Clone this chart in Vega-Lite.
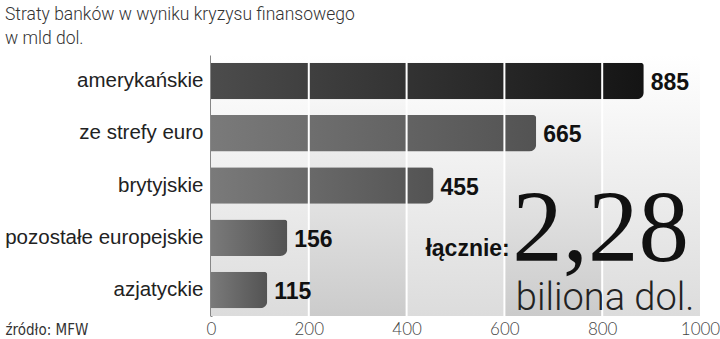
{
  "$schema": "https://vega.github.io/schema/vega-lite/v6.json",
  "width": 489,
  "height": 261,
  "autosize": {"type": "none"},
  "padding": {"left": 211, "top": 55, "right": 20, "bottom": 23},
  "background": "white",
  "config": {"view": {"stroke": null}, "font": "Liberation Sans"},
  "title": {
    "text": ["Straty banków w wyniku kryzysu finansowego", "w mld dol."],
    "anchor": "start",
    "frame": "group",
    "dx": -206,
    "offset": 7,
    "font": "Roboto",
    "fontSize": 17.5,
    "fontWeight": 300,
    "color": "#333333",
    "lineHeight": 24
  },
  "datasets": {
    "bars": [
      {"kraj": "amerykańskie", "straty": 885, "grupa": "us"},
      {"kraj": "ze strefy euro", "straty": 665, "grupa": "inne"},
      {"kraj": "brytyjskie", "straty": 455, "grupa": "inne"},
      {"kraj": "pozostałe europejskie", "straty": 156, "grupa": "inne"},
      {"kraj": "azjatyckie", "straty": 115, "grupa": "inne"}
    ],
    "bands": [
      {"od": 0, "do": 200, "typ": "jasny"},
      {"od": 200, "do": 400, "typ": "ciemny"},
      {"od": 400, "do": 600, "typ": "jasny"},
      {"od": 600, "do": 800, "typ": "ciemny"},
      {"od": 800, "do": 1000, "typ": "jasny"}
    ],
    "grid": [{"v": 200}, {"v": 400}, {"v": 600}, {"v": 800}]
  },
  "layer": [
    {
      "data": {"name": "bands"},
      "transform": [{"filter": "datum.typ === 'jasny'"}],
      "mark": {"type": "rect", "color": {"gradient": "linear", "x1": 0, "y1": 0, "x2": 0, "y2": 1, "stops": [{"offset": 0, "color": "#ffffff"}, {"offset": 1, "color": "#dcdcdc"}]}},
      "encoding": {
        "x": {"field": "od", "type": "quantitative", "scale": {"domain": [0, 1000]}},
        "x2": {"field": "do"}
      }
    },
    {
      "data": {"name": "bands"},
      "transform": [{"filter": "datum.typ === 'ciemny'"}],
      "mark": {"type": "rect", "color": {"gradient": "linear", "x1": 0, "y1": 0, "x2": 0, "y2": 1, "stops": [{"offset": 0, "color": "#ffffff"}, {"offset": 1, "color": "#cbcbcb"}]}},
      "encoding": {
        "x": {"field": "od", "type": "quantitative"},
        "x2": {"field": "do"}
      }
    },
    {
      "data": {"name": "bars"},
      "transform": [{"filter": "datum.grupa === 'us'"}],
      "mark": {"type": "bar", "cornerRadiusTopRight": 3, "cornerRadiusBottomRight": 7, "color": {"gradient": "linear", "x1": 0, "y1": 0, "x2": 1, "y2": 0, "stops": [{"offset": 0, "color": "#4c4c4c"}, {"offset": 1, "color": "#141414"}]}},
      "encoding": {
        "y": {"field": "kraj", "type": "nominal", "sort": null, "scale": {"domain": ["amerykańskie", "ze strefy euro", "brytyjskie", "pozostałe europejskie", "azjatyckie"], "paddingInner": 0.3, "paddingOuter": 0.15},
          "axis": {"title": null, "ticks": false, "domainColor": "#111111", "domainWidth": 2, "labelFontSize": 20.5, "labelFont": "Liberation Sans", "labelColor": "#222222", "labelPadding": 8, "labelLimit": 0}},
        "x": {"field": "straty", "type": "quantitative", "scale": {"domain": [0, 1000]},
          "axis": {"values": [0, 200, 400, 600, 800, 1000], "format": "d", "grid": false, "domain": false, "ticks": false, "labelFlush": false, "labelPadding": 5, "labelFont": "Lato", "labelFontWeight": 300, "labelFontSize": 17, "labelColor": "#444444",
            "title": "źródło: MFW", "titleX": -206, "titleY": 13, "titleAlign": "left", "titleBaseline": "middle", "titleFont": "DejaVu Sans Condensed", "titleFontSize": 15, "titleFontWeight": "normal", "titleColor": "#333333"}}
      }
    },
    {
      "data": {"name": "bars"},
      "transform": [{"filter": "datum.grupa === 'inne'"}],
      "mark": {"type": "bar", "cornerRadiusTopRight": 3, "cornerRadiusBottomRight": 7, "color": {"gradient": "linear", "x1": 0, "y1": 0, "x2": 1, "y2": 0, "stops": [{"offset": 0, "color": "#7a7a7a"}, {"offset": 1, "color": "#535353"}]}},
      "encoding": {
        "y": {"field": "kraj", "type": "nominal", "sort": null},
        "x": {"field": "straty", "type": "quantitative"}
      }
    },
    {
      "data": {"name": "grid"},
      "mark": {"type": "rule", "color": "#ffffff", "strokeWidth": 2},
      "encoding": {"x": {"field": "v", "type": "quantitative"}}
    },
    {
      "data": {"name": "bars"},
      "mark": {"type": "text", "align": "left", "baseline": "middle", "dx": 7, "dy": 2, "font": "Liberation Sans", "fontWeight": "bold", "fontSize": 23, "color": "#111111"},
      "encoding": {
        "y": {"field": "kraj", "type": "nominal", "sort": null},
        "x": {"field": "straty", "type": "quantitative"},
        "text": {"field": "straty"}
      }
    },
    {
      "data": {"values": [{"t": "łącznie:", "x": 611, "kraj": "pozostałe europejskie"}]},
      "mark": {"type": "text", "align": "right", "baseline": "alphabetic", "dy": 18, "font": "Liberation Sans", "fontWeight": "bold", "fontSize": 23, "color": "#111111"},
      "encoding": {
        "y": {"field": "kraj", "type": "nominal"},
        "x": {"field": "x", "type": "quantitative"},
        "text": {"field": "t"}
      }
    },
    {
      "data": {"values": [{"t": "2,28", "x": 797, "kraj": "pozostałe europejskie"}]},
      "mark": {"type": "text", "align": "center", "baseline": "alphabetic", "dy": 23, "font": "Liberation Serif", "fontWeight": "normal", "fontSize": 101, "color": "#111111"},
      "encoding": {
        "y": {"field": "kraj", "type": "nominal"},
        "x": {"field": "x", "type": "quantitative"},
        "text": {"field": "t"}
      }
    },
    {
      "data": {"values": [{"t": "biliona dol.", "x": 806, "kraj": "azjatyckie"}]},
      "mark": {"type": "text", "align": "center", "baseline": "alphabetic", "dy": 20, "font": "Roboto", "fontWeight": 300, "fontSize": 38, "color": "#222222"},
      "encoding": {
        "y": {"field": "kraj", "type": "nominal"},
        "x": {"field": "x", "type": "quantitative"},
        "text": {"field": "t"}
      }
    }
  ]
}
